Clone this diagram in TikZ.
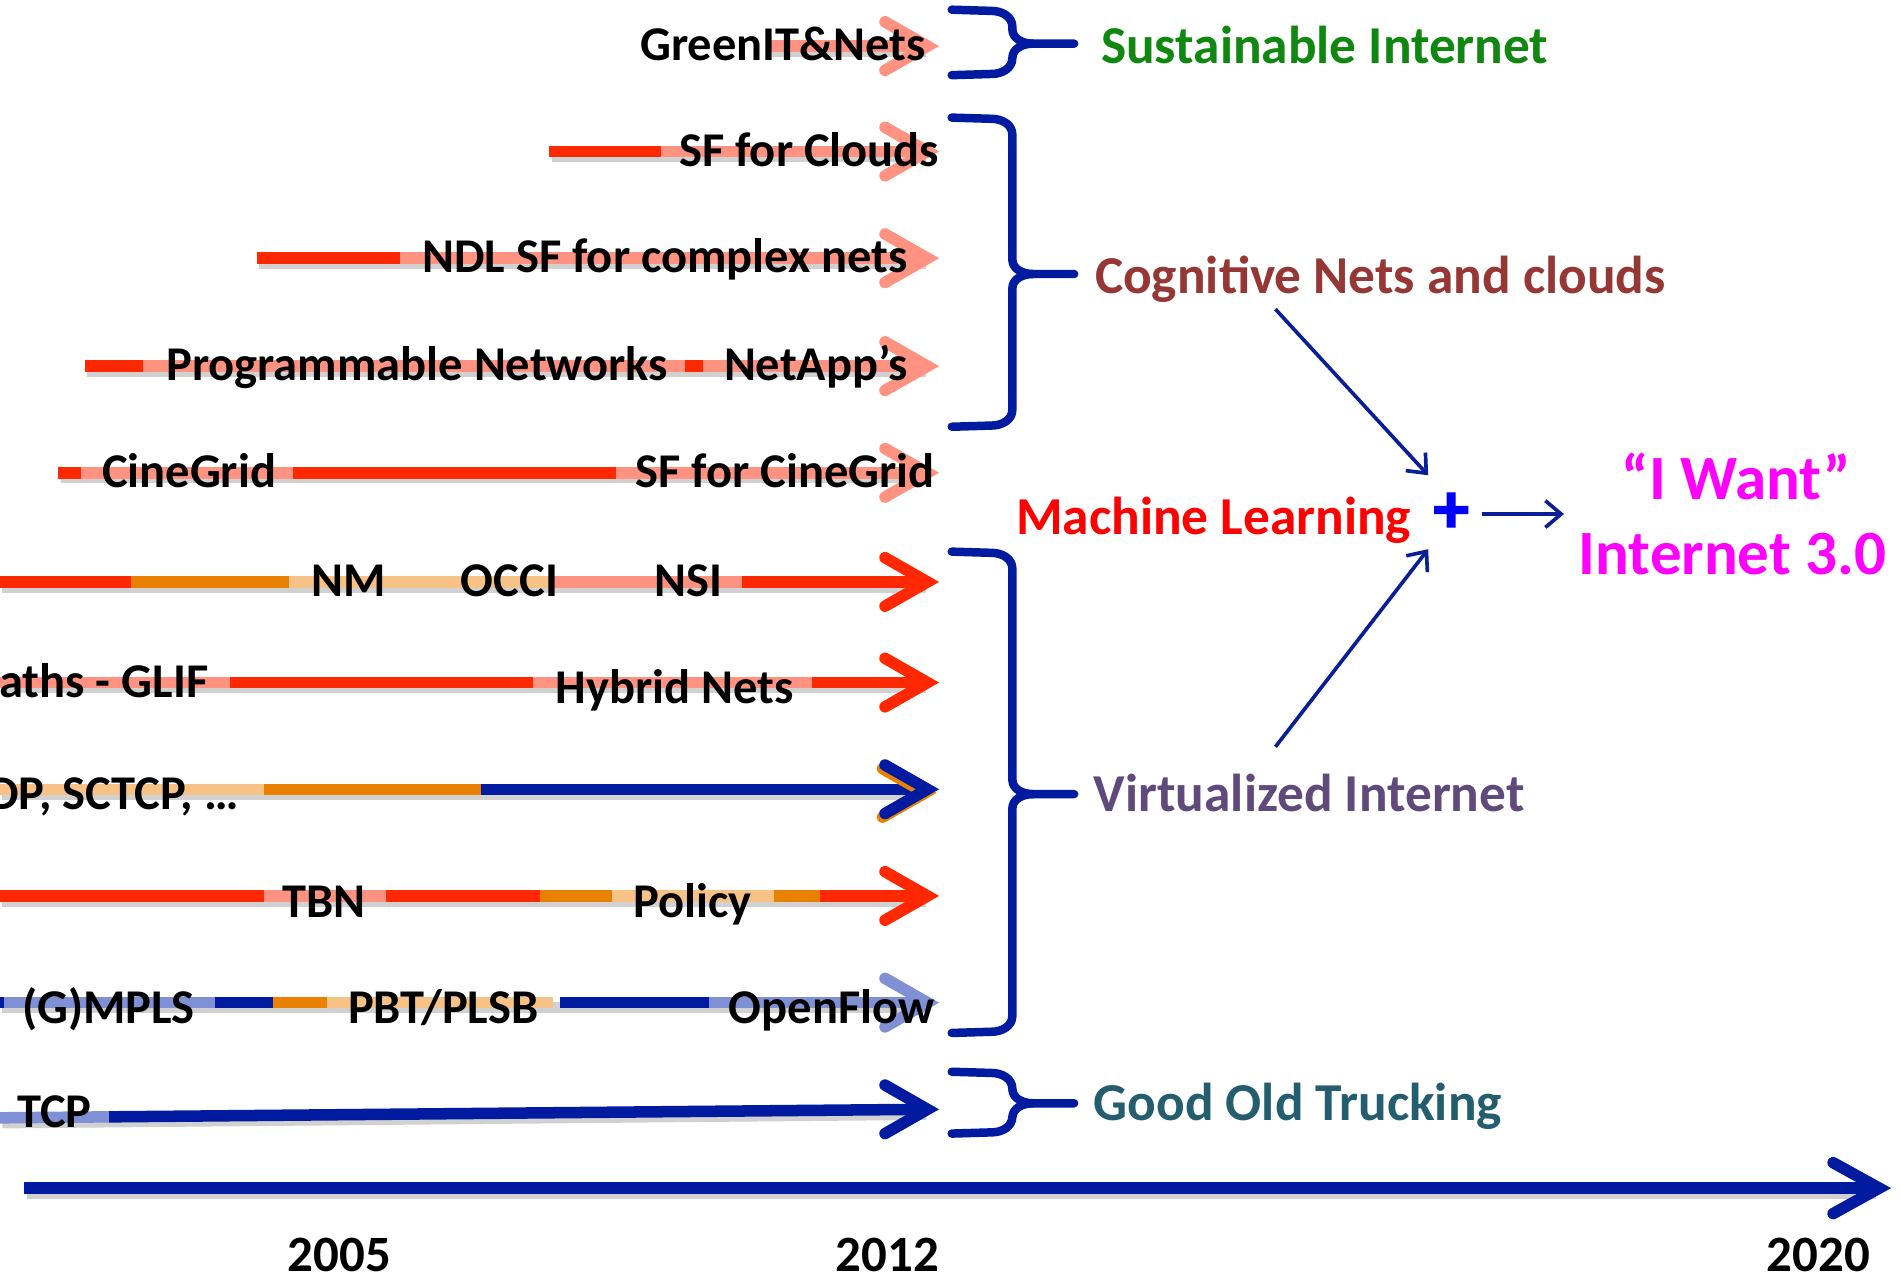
\documentclass[tikz,border=0pt]{standalone}
\usepackage{fontspec}
\setmainfont{Carlito}
\newfontfamily\plusfont{Carlito}[FakeBold=2.5]
\usetikzlibrary{arrows.meta}
\definecolor{cRed}{RGB}{255,40,0}
\definecolor{cSal}{RGB}{255,146,128}
\definecolor{cOra}{RGB}{234,128,0}
\definecolor{cPea}{RGB}{246,194,134}
\definecolor{cBlu}{RGB}{0,26,160}
\definecolor{cLbl}{RGB}{128,144,212}
\definecolor{cArr}{RGB}{10,30,150}
\definecolor{cGreen}{RGB}{16,135,16}
\definecolor{cBrown}{RGB}{149,55,53}
\definecolor{cPurple}{RGB}{96,74,123}
\definecolor{cTeal}{RGB}{36,94,110}
\definecolor{cMag}{RGB}{255,0,255}
\newcommand\chev[3]{\draw[chevron,#1] ({#2-35},{#3-20}) -- (#2,#3) -- ({#2-35},{#3+20});}
\newcommand\rowshadow[3]{\draw[shadowbar] (#1,#3) -- (#2,#3);}
\newcommand\seg[4]{\draw[bar,#1] (#2,#4) -- (#3,#4);}
\newcommand\mybrace[3]{%
  \draw[bracestyle] (785,#1) -- (818,{#1+1}) to[out=0,in=90] (835,{#1+14})
    -- (835,{#3-12}) to[out=-90,in=180] (852,#3) -- (886,#3);
  \draw[bracestyle] (852,#3) to[out=180,in=90] (835,{#3+12})
    -- (835,{#2-14}) to[out=-90,in=0] (818,{#2-1}) -- (785,#2);}
\begin{document}
\begin{tikzpicture}[x=1pt,y=-1pt,
  bar/.style={line width=9.5pt,line cap=butt},
  shadowbar/.style={line width=9.5pt,draw=black,opacity=0.18,transform canvas={shift={(2pt,-4pt)}}},
  chevron/.style={line width=9.5pt,line cap=round,line join=miter},
  lab/.style={font=\fontsize{40}{48}\selectfont\bfseries,text=black,inner sep=0pt,anchor=base west},
  biglab/.style={font=\fontsize{44}{52}\selectfont\bfseries,inner sep=0pt,anchor=base west},
  yearlab/.style={font=\fontsize{42}{50}\selectfont\bfseries,inner sep=0pt,anchor=base},
  bracestyle/.style={draw=cBlu,line width=7pt,line cap=round,line join=round},
  conn/.style={draw=cArr,line width=3pt,-{Straight Barb[length=13pt,width=22pt]}}]
\useasboundingbox (0,0) rectangle (1568,1052);
\clip (0,0) rectangle (1568,1052);

% ---------- Row: GreenIT&Nets
\rowshadow{635}{762}{38}
\seg{cSal}{635}{762}{38}
\chev{cSal}{765}{38}
\node[lab] (greenit) at (528,50) {GreenIT\&Nets};

% ---------- Row: SF for Clouds
\rowshadow{453}{762}{125}
\seg{cRed}{453}{545}{125}
\seg{cSal}{545}{762}{125}
\chev{cSal}{765}{125}
\node[lab] (sfclouds) at (560,137) {SF for Clouds};

% ---------- Row: NDL
\rowshadow{212}{762}{213}
\seg{cRed}{212}{330}{213}
\seg{cSal}{330}{762}{213}
\chev{cSal}{765}{213}
\node[lab] (ndl) at (348,225) {NDL SF for complex nets};

% ---------- Row: Programmable Networks
\rowshadow{70}{762}{302}
\seg{cRed}{70}{118}{302}
\seg{cSal}{118}{565}{302}
\seg{cRed}{565}{580}{302}
\seg{cSal}{580}{762}{302}
\chev{cSal}{765}{302}
\node[lab] (prog) at (137,314) {Programmable Networks};
\node[lab] (netapp) at (597,314) {NetApp’s};

% ---------- Row: CineGrid
\rowshadow{48}{762}{390}
\seg{cRed}{48}{67}{390}
\seg{cSal}{67}{242}{390}
\seg{cRed}{242}{508}{390}
\seg{cSal}{508}{762}{390}
\chev{cSal}{765}{390}
\node[lab] (cine) at (84,402) {CineGrid};
\node[lab] (sfcine) at (524,402) {SF for CineGrid};

% ---------- Row: NM OCCI NSI
\rowshadow{0}{762}{480}
\seg{cRed}{0}{108}{480}
\seg{cOra}{108}{238}{480}
\seg{cPea}{238}{455}{480}
\seg{cSal}{455}{612}{480}
\seg{cRed}{612}{762}{480}
\chev{cRed}{765}{480}
\node[lab] (nm) at (257,492) {NM};
\node[lab] (occi) at (380,492) {OCCI};
\node[lab] (nsi) at (540,492) {NSI};

% ---------- Row: Hybrid Nets
\rowshadow{0}{762}{563}
\seg{cSal}{0}{190}{563}
\seg{cRed}{190}{440}{563}
\seg{cSal}{440}{670}{563}
\seg{cRed}{670}{762}{563}
\chev{cRed}{765}{563}
\node[lab,anchor=base east] (glif) at (172,575) {LightPaths - GLIF};
\node[lab] (hybrid) at (458,580) {Hybrid Nets};

% ---------- Row: UDP, SCTCP
\rowshadow{0}{762}{651}
\seg{cPea}{0}{218}{651}
\seg{cOra}{218}{397}{651}
\seg{cBlu}{397}{762}{651}
\chev{cOra,transform canvas={shift={(-2pt,-3pt)}}}{765}{651}
\chev{cBlu}{765}{651}
\node[lab,anchor=base east] (udp) at (197,668) {UDP, SCTCP, …};

% ---------- Row: TBN Policy
\rowshadow{0}{762}{739}
\seg{cRed}{0}{218}{739}
\seg{cSal}{218}{318}{739}
\seg{cRed}{318}{445}{739}
\seg{cOra}{445}{505}{739}
\seg{cPea}{505}{638}{739}
\seg{cOra}{638}{676}{739}
\seg{cRed}{676}{762}{739}
\chev{cRed}{765}{739}
\node[lab] (tbn) at (233,757) {TBN};
\node[lab] (policy) at (522,757) {Policy};

% ---------- Row: (G)MPLS
\rowshadow{0}{762}{827}
\seg{cBlu}{0}{3}{827}
\seg{cLbl}{3}{177}{827}
\seg{cBlu}{177}{225}{827}
\seg{cOra}{225}{270}{827}
\seg{cPea}{270}{456}{827}
\seg{cBlu}{462}{585}{827}
\seg{cLbl}{585}{762}{827}
\chev{cLbl}{765}{827}
\node[lab] (mpls) at (18,844) {(G)MPLS};
\node[lab] (pbt) at (287,844) {PBT/PLSB};
\node[lab] (openflow) at (601,844) {OpenFlow};

% ---------- Row: TCP
\draw[shadowbar] (0,922) -- (762,915);
\draw[bar,cLbl] (0,922) -- (90,921.2);
\draw[bar,cBlu] (90,921.2) -- (762,915);
\chev{cBlu}{765}{915}
\node[lab] (tcp) at (14,930) {TCP};

% ---------- Time axis
\draw[shadowbar] (20,980) -- (1545,980);
\draw[bar,cBlu] (20,980) -- (1545,980);
\draw[chevron,cBlu] (1512,959) -- (1550,980) -- (1512,1001);
\node[yearlab] (y2005) at (280,1049) {2005};
\node[yearlab] (y2012) at (732,1049) {2012};
\node[yearlab] (y2020) at (1500,1049) {2020};

% ---------- Braces
\mybrace{8}{62}{36}
\mybrace{97}{352}{226}
\mybrace{455}{852}{655}
\mybrace{884}{935}{910}

% ---------- Right labels
\node[biglab,text=cGreen] (sust) at (908,52) {Sustainable Internet};
\node[biglab,text=cBrown] (cog) at (903,242) {Cognitive Nets and clouds};
\node[biglab,text=cPurple] (virt) at (902,669) {Virtualized Internet};
\node[biglab,text=cTeal] (good) at (902,924) {Good Old Trucking};
\node[biglab,text=red] (ml) at (838,441) {Machine Learning};
\node[font=\fontsize{58}{64}\selectfont\plusfont\bfseries,text=blue,inner sep=0pt] (plus) at (1197,423) {+};
\node[font=\fontsize{52}{60}\selectfont\bfseries,text=cMag,inner sep=0pt,anchor=base] (iwant) at (1432,412) {“I Want”};
\node[font=\fontsize{52}{60}\selectfont\bfseries,text=cMag,inner sep=0pt,anchor=base west] (inet) at (1302,474) {Internet 3.0};

% ---------- Connectors
\coordinate (cogS) at (1052,255);
\coordinate (virtN) at (1052,616);
\coordinate (plusNW) at (1178,392);
\coordinate (plusSW) at (1178,453);
\coordinate (plusE) at (1222,424);
\coordinate (inetW) at (1290,424);
\draw[conn] (cogS) -- (plusNW);
\draw[conn] (virtN) -- (plusSW);
\draw[conn] (plusE) -- (inetW);
\end{tikzpicture}
\end{document}
